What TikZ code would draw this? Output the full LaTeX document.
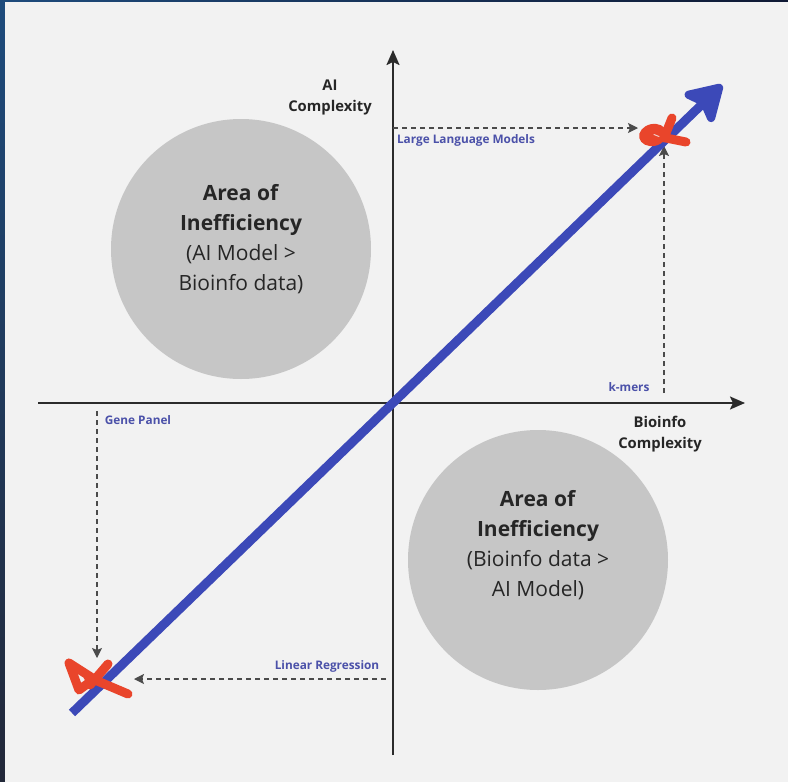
\documentclass[tikz,border=0pt]{standalone}
\usepackage{fontspec}
\setmainfont{Open Sans}
\usetikzlibrary{arrows.meta}

\definecolor{panel}{HTML}{F2F2F2}
\definecolor{frameA}{HTML}{1E4B7C}
\definecolor{frameB}{HTML}{0F1934}
\definecolor{frameC}{HTML}{222839}
\definecolor{disc}{HTML}{C6C6C6}
\definecolor{ink}{HTML}{262626}
\definecolor{axisgray}{HTML}{2B2B2B}
\definecolor{trendblue}{HTML}{3C49B8}
\definecolor{labelblue}{HTML}{4B51A9}
\definecolor{pen}{HTML}{E9452B}

\begin{document}
\begin{tikzpicture}[x=1pt,y=-1pt,
  axis/.style={draw=axisgray, line width=2pt, -{Stealth[length=15pt,width=13pt,inset=3pt]}},
  guide/.style={draw=axisgray!85, line width=1.2pt, dash pattern=on 5pt off 4pt,
                -{Stealth[length=10pt,width=10pt,inset=2pt]}},
  trend/.style={draw=trendblue, line width=9pt,
                -{Stealth[length=42pt,width=50pt,inset=9pt,round]}},
  redstroke/.style={draw=pen, line width=9pt, line cap=round, line join=round},
  disclabel/.style={text=ink, align=center, font=\fontsize{21}{30}\selectfont},
  axislabel/.style={text=ink, align=center, font=\bfseries\fontsize{14.8}{21}\selectfont},
  pointlabel/.style={text=labelblue, font=\bfseries\fontsize{11.8}{13}\selectfont, inner sep=0pt}]

  % frame and panel
  \useasboundingbox (0,0) rectangle (788,782);
  \shade[left color=frameA, right color=frameB] (0,0) rectangle (788,782);
  \shade[top color=frameA, bottom color=frameC] (0,0) rectangle (5,782);
  \fill[panel] (5,2) rectangle (788,782);

  % regions of inefficiency
  \node[circle, fill=disc, minimum size=260pt, inner sep=0pt] (upper) at (241,249) {};
  \node[circle, fill=disc, minimum size=260pt, inner sep=0pt] (lower) at (538,560) {};

  % axes
  \coordinate (yb) at (393,755);
  \coordinate (yt) at (393,50);
  \coordinate (xl) at (38,403);
  \coordinate (xr) at (745,403);
  \draw[axis] (yb) -- (yt);
  \draw[axis] (xl) -- (xr);

  % guide lines towards the marked points
  \coordinate (llmA) at (393,128);
  \coordinate (llmB) at (638,128);
  \coordinate (kmA) at (664,393);
  \coordinate (kmB) at (664,146);
  \coordinate (gpA) at (97,411);
  \coordinate (gpB) at (97,658);
  \coordinate (lrA) at (386,679);
  \coordinate (lrB) at (134,679);
  \draw[guide] (llmA) -- (llmB);
  \draw[guide] (kmA) -- (kmB);
  \draw[guide] (gpA) -- (gpB);
  \draw[guide] (lrA) -- (lrB);

  % trend arrow
  \coordinate (tb) at (72,713);
  \coordinate (tt) at (722,85);
  \draw[trend] (tb) -- (tt);

  % hand-drawn marks
  \fill[pen, rotate around={12:(653,135)}] (653,135) ellipse [x radius=14pt, y radius=11pt];
  \draw[redstroke] (672,118) -- (664,138);
  \draw[redstroke] (656,136) -- (686,142);
  \draw[panel!80!pen, line width=1pt, line cap=round] (654,134.5) -- (659,136.5);

  \draw[redstroke] (69,663) -- (79,690) -- (94,679) -- cycle;
  \draw[redstroke] (108,664) -- (90,685);
  \draw[redstroke] (88,677) -- (128,694);

  % texts
  \node[disclabel] (upperText) at (241,239)
    {\textbf{Area of}\\\textbf{Inefficiency}\\(AI Model >\\Bioinfo data)};
  \node[disclabel] (lowerText) at (538,545)
    {\textbf{Area of}\\\textbf{Inefficiency}\\(Bioinfo data >\\AI Model)};
  \node[axislabel] (ylab) at (330,97) {AI\\Complexity};
  \node[axislabel] (xlab) at (660,434) {Bioinfo\\Complexity};
  \node[pointlabel] (llm) at (466,140) {Large Language Models};
  \node[pointlabel] (kmers) at (629,387) {k-mers};
  \node[pointlabel] (gene) at (138,420) {Gene Panel};
  \node[pointlabel] (linreg) at (327,666) {Linear Regression};
\end{tikzpicture}
\end{document}
